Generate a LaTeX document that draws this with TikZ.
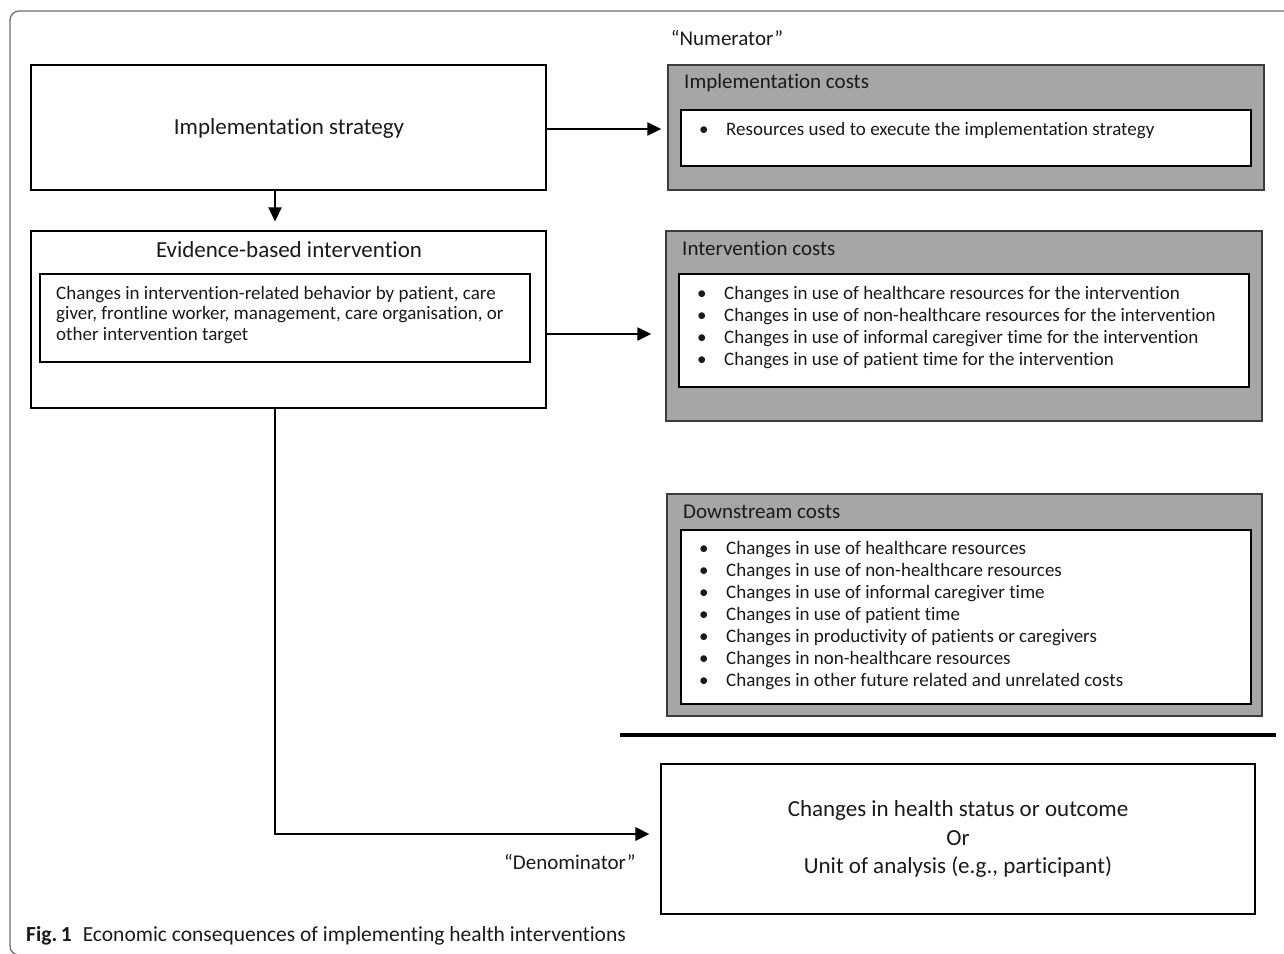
\documentclass[tikz,border=0pt]{standalone}
\usepackage{fontspec}
\setmainfont{Carlito}[Ligatures=NoCommon]
\usetikzlibrary{arrows.meta}
\definecolor{boxgrey}{HTML}{A6A6A6}
\definecolor{greyedge}{HTML}{3C3C3C}
\definecolor{frameline}{HTML}{6E6E6E}
\definecolor{txt}{HTML}{1A1A1A}
\begin{document}
\begin{tikzpicture}[x=1pt,y=-1pt,
  every node/.style={text=txt, inner sep=0pt},
  plainbox/.style={draw=black, fill=white, line width=1.1pt},
  greybox/.style={draw=greyedge, fill=boxgrey, line width=1.5pt},
  innerbox/.style={draw=black, fill=white, line width=1.1pt},
  bigtext/.style={font=\fontsize{23}{28.5}\selectfont},
  midtext/.style={font=\fontsize{21}{25}\selectfont},
  smalltext/.style={font=\fontsize{19}{22}\selectfont},
  arr/.style={line width=2.5pt, -{Triangle[length=14pt,width=13pt]}}]
\useasboundingbox (0,0) rectangle (1284,953);
% frame
\draw[frameline, line width=1.3pt, rounded corners=9pt] (1290,11) -- (10,11) -- (10,955) -- (40,955);

% labels
\node[midtext] (num) at (727,38) {“Numerator”};
\node[midtext, anchor=east] (den) at (636,862) {“Denominator”};

% implementation strategy
\node[plainbox, minimum width=515pt, minimum height=125pt] (strat) at (288.5,127.5) {};
\node[bigtext] (stratT) at (289,128) {Implementation strategy};

% implementation costs
\node[greybox, minimum width=596pt, minimum height=125pt] (impl) at (966,127.5) {};
\node[midtext, anchor=west] (implT) at (684,83) {Implementation costs};
\node[innerbox, minimum width=570pt, minimum height=56pt] (implI) at (966,138) {};
\node[smalltext, anchor=west] (implL) at (699,131) {%
  \begin{tabular}{@{}p{27pt}@{}l@{}}
  • & Resources used to execute the implementation strategy
  \end{tabular}};

% evidence-based intervention
\node[plainbox, minimum width=515pt, minimum height=177pt] (ebi) at (288.5,319.5) {};
\node[bigtext] (ebiT) at (289,250) {Evidence-based intervention};
\node[innerbox, minimum width=490pt, minimum height=88pt] (ebiI) at (285,318) {};
\node[anchor=west, align=left, font=\fontsize{19}{20.5}\selectfont] (ebiL) at (56,315)
  {Changes in intervention-related behavior by patient, care\\
   giver, frontline worker, management, care organisation, or\\
   other intervention target};

% intervention costs
\node[greybox, minimum width=596pt, minimum height=190pt] (int) at (964,326) {};
\node[midtext, anchor=west] (intT) at (682,248) {Intervention costs};
\node[innerbox, minimum width=570pt, minimum height=113pt] (intI) at (964,330.5) {};
\node[smalltext, anchor=west] (intL) at (697,328) {%
  \begin{tabular}{@{}p{27pt}@{}l@{}}
  • & Changes in use of healthcare resources for the intervention\\
  • & Changes in use of non-healthcare resources for the intervention\\
  • & Changes in use of informal caregiver time for the intervention\\
  • & Changes in use of patient time for the intervention
  \end{tabular}};

% downstream costs
\node[greybox, minimum width=595pt, minimum height=222pt] (down) at (964.5,605) {};
\node[midtext, anchor=west] (downT) at (683,512) {Downstream costs};
\node[innerbox, minimum width=570pt, minimum height=174pt] (downI) at (966,617) {};
\node[smalltext, anchor=west] (downL) at (699,616.5) {%
  \begin{tabular}{@{}p{27pt}@{}l@{}}
  • & Changes in use of healthcare resources\\
  • & Changes in use of non-healthcare resources\\
  • & Changes in use of informal caregiver time\\
  • & Changes in use of patient time\\
  • & Changes in productivity of patients or caregivers\\
  • & Changes in non-healthcare resources\\
  • & Changes in other future related and unrelated costs
  \end{tabular}};

% separator
\draw[line width=3.5pt] (620,735) -- (1276,735);

% outcome
\node[plainbox, minimum width=594pt, minimum height=150pt] (out) at (958,839) {};
\node[bigtext, align=center] (outT) at (958,839)
  {Changes in health status or outcome\\ Or\\ Unit of analysis (e.g., participant)};

% connectors
\draw[arr, shorten >=6pt] ([yshift=-1.5pt]strat.east) -- ([yshift=-1.5pt]impl.west);
\draw[arr, shorten >=9pt] ([xshift=-13.5pt]strat.south) -- ([xshift=-13.5pt]ebi.north);
\coordinate (e1) at ([yshift=-14.5pt]ebi.east);
\draw[arr, shorten >=14pt] (e1) -- (e1 -| int.west);
\draw[arr, line width=2.8pt, shorten >=11pt] ([xshift=-13.5pt]ebi.south) |- ([yshift=5pt]out.west);

% caption
\node[anchor=west, font=\fontsize{21.5}{25}\selectfont] (cap) at (26,936)
  {\textbf{Fig.\,1}\hspace{11pt}Economic consequences of implementing health interventions};
\end{tikzpicture}
\end{document}
